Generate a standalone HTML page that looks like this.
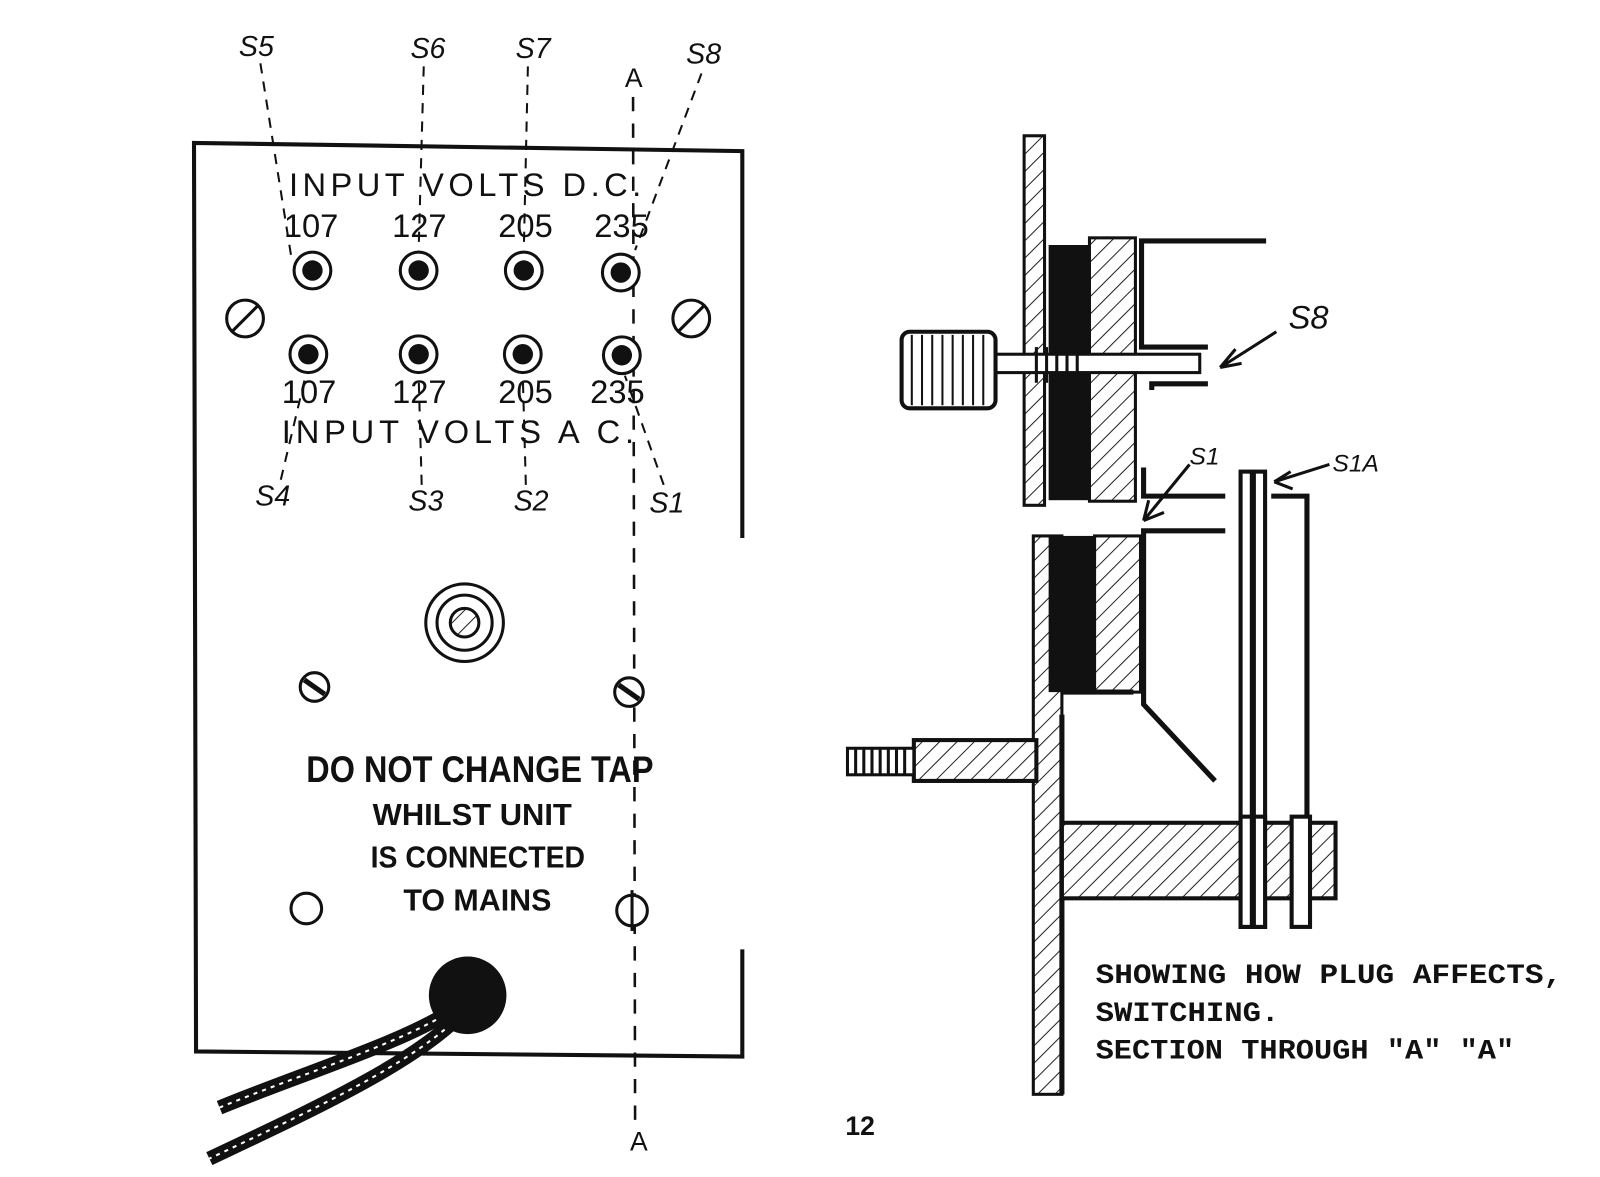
<!DOCTYPE html>
<html><head><meta charset="utf-8"><style>
html,body{margin:0;padding:0;background:#fff}
svg{display:block}
.h{font-family:"Liberation Sans",sans-serif;fill:#111}
.m{font-family:"Liberation Mono",monospace;font-weight:bold;fill:#111}
</style></head><body>
<svg width="1600" height="1177" viewBox="0 0 1567 1153" preserveAspectRatio="none" xmlns="http://www.w3.org/2000/svg">
<defs>
<pattern id="hat" width="12" height="12" patternUnits="userSpaceOnUse" patternTransform="rotate(45)">
<rect width="12" height="12" fill="#fff"/><line x1="0" y1="0" x2="0" y2="12" stroke="#222" stroke-width="2"/></pattern>
</defs>
<g stroke="#111" fill="none" stroke-width="4">
<path d="M727 527 L727 148 L190 140 L192 1030 L727 1035 L727 930"/>
</g>
<line x1="620" y1="95" x2="622" y2="1100" stroke="#111" stroke-width="2.5" stroke-dasharray="14,12"/>
<text class="h" x="612" y="85" font-size="26">A</text>
<text class="h" x="617" y="1127" font-size="26">A</text>
<g class="h" font-size="28" font-style="italic">
<text x="234" y="55">S5</text><text x="402" y="57">S6</text><text x="505" y="57">S7</text><text x="672" y="62">S8</text>
<text x="250" y="495">S4</text><text x="400" y="500">S3</text><text x="503" y="500">S2</text><text x="636" y="502">S1</text>
</g>
<g stroke="#111" stroke-width="2" stroke-dasharray="10,8" fill="none">
<line x1="255" y1="62" x2="285" y2="250"/><line x1="415" y1="65" x2="410" y2="245"/>
<line x1="517" y1="65" x2="513" y2="245"/><line x1="687" y1="72" x2="622" y2="245"/>
<line x1="275" y1="470" x2="300" y2="365"/><line x1="413" y1="475" x2="410" y2="368"/>
<line x1="515" y1="475" x2="512" y2="368"/><line x1="650" y1="475" x2="612" y2="368"/>
</g>
<g class="h" font-size="32">
<text x="283" y="192" textLength="345" lengthAdjust="spacing">INPUT  VOLTS  D.C.</text>
<text x="278" y="232">107</text><text x="384" y="232">127</text><text x="488" y="232">205</text><text x="582" y="232">235</text>
<text x="276" y="395">107</text><text x="384" y="395">127</text><text x="488" y="395">205</text><text x="578" y="395">235</text>
<text x="276" y="434" textLength="345" lengthAdjust="spacing">INPUT  VOLTS   A C.</text>
</g>
<g stroke="#111" stroke-width="3" fill="#fff">
<circle cx="306" cy="265" r="18"/><circle cx="410" cy="265" r="18"/><circle cx="513" cy="265" r="18"/><circle cx="608" cy="267" r="18"/>
<circle cx="302" cy="347" r="18"/><circle cx="410" cy="347" r="18"/><circle cx="512" cy="347" r="18"/><circle cx="609" cy="348" r="18"/>
</g>
<g fill="#111">
<circle cx="306" cy="265" r="10"/><circle cx="410" cy="265" r="10"/><circle cx="513" cy="265" r="10"/><circle cx="608" cy="267" r="10"/>
<circle cx="302" cy="347" r="10"/><circle cx="410" cy="347" r="10"/><circle cx="512" cy="347" r="10"/><circle cx="609" cy="348" r="10"/>
</g>
<g stroke="#111" stroke-width="3" fill="#fff">
<circle cx="240" cy="312" r="18"/><line x1="228" y1="324" x2="252" y2="300"/>
<circle cx="677" cy="312" r="18"/><line x1="665" y1="324" x2="689" y2="300"/>
<circle cx="308" cy="673" r="14"/><line x1="298" y1="666" x2="318" y2="680" stroke-width="5"/>
<circle cx="616" cy="678" r="14"/><line x1="606" y1="671" x2="626" y2="685" stroke-width="5"/>
<circle cx="300" cy="890" r="15"/>
<circle cx="619" cy="892" r="15"/><line x1="619" y1="872" x2="619" y2="912"/>
<circle cx="455" cy="610" r="38"/><circle cx="455" cy="610" r="27"/>
</g>
<circle cx="455" cy="610" r="14" fill="url(#hat)" stroke="#111" stroke-width="3"/>
<g class="h" font-weight="bold">
<text x="300" y="766" font-size="36" textLength="340" lengthAdjust="spacingAndGlyphs">DO NOT CHANGE TAP</text>
<text x="365" y="808" font-size="30" textLength="195" lengthAdjust="spacingAndGlyphs">WHILST UNIT</text>
<text x="363" y="850" font-size="30" textLength="210" lengthAdjust="spacingAndGlyphs">IS CONNECTED</text>
<text x="395" y="892" font-size="30" textLength="145" lengthAdjust="spacingAndGlyphs">TO MAINS</text>
</g>
<g stroke="#111" fill="none" stroke-width="14">
<path d="M450 985 C400 1020 300 1050 215 1085"/>
<path d="M455 990 C410 1040 300 1090 205 1135"/>
</g>
<g stroke="#fff" fill="none" stroke-width="2" stroke-dasharray="4,5">
<path d="M450 985 C400 1020 300 1050 215 1085"/>
<path d="M455 990 C410 1040 300 1090 205 1135"/>
</g>
<circle cx="458" cy="975" r="38" fill="#111"/>
<text class="h" x="828" y="1112" font-size="26" font-weight="bold">12</text>

<rect x="1003" y="133" width="20" height="362" fill="url(#hat)" stroke="#111" stroke-width="3"/>
<rect x="1012" y="525" width="28" height="547" fill="url(#hat)" stroke="#111" stroke-width="3"/>
<rect x="1027" y="240" width="40" height="250" fill="#111"/>
<rect x="1027" y="525" width="45" height="153" fill="#111"/>
<rect x="1067" y="233" width="45" height="258" fill="url(#hat)" stroke="#111" stroke-width="3"/>
<rect x="1072" y="525" width="45" height="153" fill="url(#hat)" stroke="#111" stroke-width="3"/>
<g stroke="#111" stroke-width="5" fill="none">
<path d="M1240 236 L1118 236 L1118 340 L1183 340"/>
<path d="M1183 376 L1128 376 L1128 382"/>
<path d="M1120 458 L1120 486 L1200 486"/>
<path d="M1200 520 L1120 520 L1120 690 L1190 765"/>
<path d="M1040 678 L1110 678"/>
<path d="M1245 486 L1280 486 L1280 905"/>
<line x1="1040" y1="700" x2="1040" y2="1072"/>
</g>
<rect x="1215" y="462" width="24" height="446" fill="#fff" stroke="#111" stroke-width="4"/>
<line x1="1227" y1="462" x2="1227" y2="908" stroke="#111" stroke-width="6"/>
<rect x="1040" y="806" width="268" height="74" fill="url(#hat)" stroke="#111" stroke-width="4"/>
<rect x="1215" y="800" width="24" height="108" fill="#fff" stroke="#111" stroke-width="4"/>
<line x1="1227" y1="800" x2="1227" y2="908" stroke="#111" stroke-width="6"/>
<rect x="1265" y="800" width="18" height="108" fill="#fff" stroke="#111" stroke-width="4"/>
<rect x="975" y="347" width="200" height="18" fill="#fff" stroke="#111" stroke-width="3"/>
<g stroke="#111" stroke-width="3">
<line x1="1015" y1="340" x2="1015" y2="375"/><line x1="1025" y1="340" x2="1025" y2="375"/><line x1="1035" y1="340" x2="1035" y2="375"/><line x1="1045" y1="340" x2="1045" y2="375"/><line x1="1055" y1="340" x2="1055" y2="375"/>
</g>
<rect x="883" y="325" width="92" height="75" rx="8" fill="#fff" stroke="#111" stroke-width="4"/>
<g stroke="#111" stroke-width="2">
<line x1="893" y1="328" x2="893" y2="397"/><line x1="903" y1="328" x2="903" y2="397"/><line x1="913" y1="328" x2="913" y2="397"/><line x1="923" y1="328" x2="923" y2="397"/><line x1="933" y1="328" x2="933" y2="397"/><line x1="943" y1="328" x2="943" y2="397"/><line x1="953" y1="328" x2="953" y2="397"/><line x1="963" y1="328" x2="963" y2="397"/>
</g>
<rect x="895" y="725" width="120" height="40" fill="url(#hat)" stroke="#111" stroke-width="4"/>
<rect x="830" y="733" width="65" height="26" fill="#fff" stroke="#111" stroke-width="3"/>
<g stroke="#111" stroke-width="3">
<line x1="838" y1="733" x2="838" y2="759"/><line x1="846" y1="733" x2="846" y2="759"/><line x1="854" y1="733" x2="854" y2="759"/><line x1="862" y1="733" x2="862" y2="759"/><line x1="870" y1="733" x2="870" y2="759"/><line x1="878" y1="733" x2="878" y2="759"/><line x1="886" y1="733" x2="886" y2="759"/>
</g>
<g stroke="#111" stroke-width="3" fill="none">
<path d="M1250 325 L1195 360 M1195 360 L1210 342 M1195 360 L1216 356"/>
<path d="M1165 455 L1120 510 M1120 510 L1125 490 M1120 510 L1140 502"/>
<path d="M1302 455 L1248 472 M1248 472 L1264 462 M1248 472 L1266 479"/>
</g>
<g class="h" font-style="italic">
<text x="1262" y="322" font-size="32">S8</text>
<text x="1165" y="455" font-size="24">S1</text>
<text x="1305" y="462" font-size="24">S1A</text>
</g>
<g class="m" font-size="27">
<text x="1073" y="963" textLength="457" lengthAdjust="spacingAndGlyphs">SHOWING HOW PLUG AFFECTS,</text>
<text x="1073" y="1000" textLength="180" lengthAdjust="spacingAndGlyphs">SWITCHING.</text>
<text x="1073" y="1037" textLength="410" lengthAdjust="spacingAndGlyphs">SECTION THROUGH "A" "A"</text>
</g>
</svg>
</body></html>
